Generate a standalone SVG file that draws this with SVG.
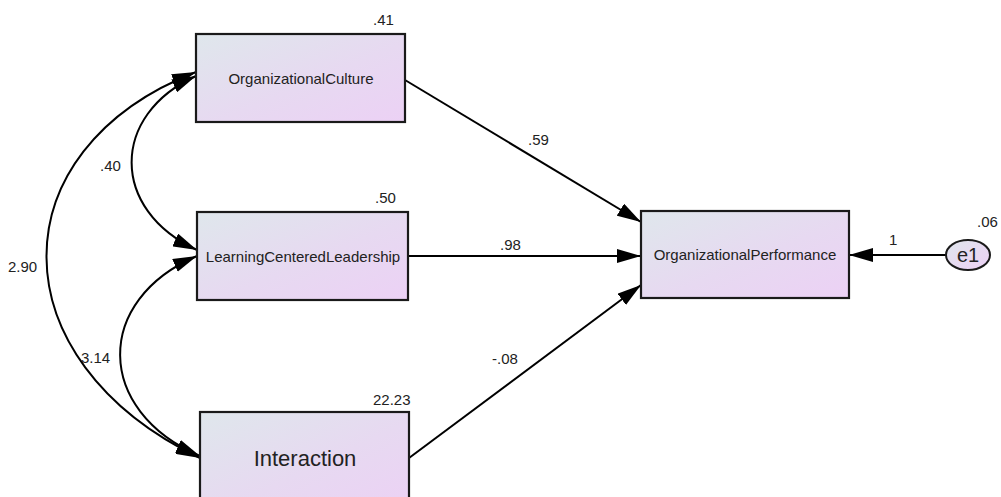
<svg xmlns="http://www.w3.org/2000/svg" width="1001" height="497" viewBox="0 0 1001 497">
  <defs>
    <linearGradient id="boxfill" x1="0" y1="0" x2="1" y2="1">
      <stop offset="0" stop-color="#dfe7ec"/>
      <stop offset="0.55" stop-color="#e7d9f1"/>
      <stop offset="1" stop-color="#ecd1f5"/>
    </linearGradient>
    <marker id="ah" viewBox="0 0 24 14" refX="24" refY="7" markerWidth="24" markerHeight="14" markerUnits="userSpaceOnUse" orient="auto-start-reverse">
      <path d="M0,0 L24,7 L0,14 Z" fill="#000"/>
    </marker>
    <style>
      .box { fill: url(#boxfill); stroke: #1a1a1a; stroke-width: 2.2; }
      .lbl { font-family: "Liberation Sans", Arial, sans-serif; font-size: 15px; fill: #222; }
      .name { font-family: "Liberation Sans", Arial, sans-serif; font-size: 15px; fill: #222; text-anchor: middle; }
      .conn { fill: none; stroke: #000; stroke-width: 2; }
    </style>
  </defs>
  <rect width="1001" height="497" fill="#fff"/>

  <g id="connectors">
    <path class="conn" d="M196,76 C110,115 110,210 197,250" marker-start="url(#ah)" marker-end="url(#ah)"/>
    <path class="conn" d="M197,256 C94,300 94,410 200,456" marker-start="url(#ah)" marker-end="url(#ah)"/>
    <path class="conn" d="M196,72 C-4,150 -4,360 200,458" marker-start="url(#ah)" marker-end="url(#ah)"/>
    <path class="conn" d="M405,80 L641,222" marker-end="url(#ah)"/>
    <path class="conn" d="M408,256 L641,256" marker-end="url(#ah)"/>
    <path class="conn" d="M409,458 L641,285" marker-end="url(#ah)"/>
    <path class="conn" d="M946,255 L849,255" marker-end="url(#ah)"/>
    <text class="lbl" x="100" y="171">.40</text>
    <text class="lbl" x="8" y="272">2.90</text>
    <text class="lbl" x="81" y="363">3.14</text>
    <text class="lbl" x="528" y="145">.59</text>
    <text class="lbl" x="500" y="250">.98</text>
    <text class="lbl" x="492" y="364">-.08</text>
    <text class="lbl" x="889" y="245">1</text>
  </g>

  <g id="OrganizationalCulture">
    <rect class="box" x="196" y="34" width="209" height="88"/>
    <text class="name" x="301" y="84">OrganizationalCulture</text>
    <text class="lbl" x="373" y="25">.41</text>
  </g>

  <g id="LearningCenteredLeadership">
    <rect class="box" x="197" y="212" width="211" height="88"/>
    <text class="name" x="303" y="262">LearningCenteredLeadership</text>
    <text class="lbl" x="375" y="203">.50</text>
  </g>

  <g id="Interaction">
    <rect class="box" x="200" y="412" width="209" height="100"/>
    <text class="name" x="305" y="466" style="font-size:22px">Interaction</text>
    <text class="lbl" x="373" y="405">22.23</text>
  </g>

  <g id="OrganizationalPerformance">
    <rect class="box" x="641" y="211" width="208" height="87"/>
    <text class="name" x="745" y="260">OrganizationalPerformance</text>
  </g>

  <g id="e1">
    <ellipse cx="968" cy="255" rx="22" ry="15" fill="url(#boxfill)" stroke="#1a1a1a" stroke-width="2"/>
    <text class="name" x="968" y="262" style="font-size:20px">e1</text>
    <text class="lbl" x="977" y="227">.06</text>
  </g>
</svg>
